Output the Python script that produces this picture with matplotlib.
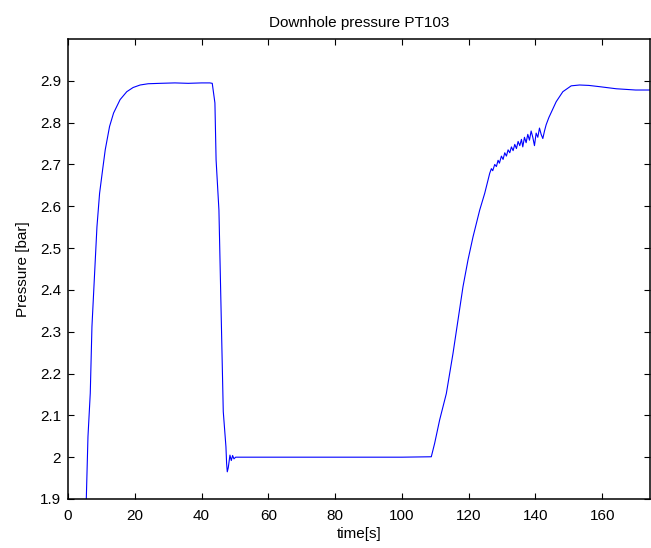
import matplotlib
matplotlib.use("Agg")
import matplotlib.pyplot as plt

plt.rcParams['font.family'] = ['Liberation Sans', 'DejaVu Sans']

# time [s] and downhole pressure [bar]
t = [5.0, 5.47, 5.98, 6.67, 7.17, 7.97, 8.67, 9.46, 10.36, 11.15, 12.45, 13.65,
     15.6, 17.6, 19.5, 21.6, 24.0, 27.6, 32.0, 36.0, 40.0, 42.5, 43.2,
     44.0, 44.35, 45.2, 46.5, 47.3, 47.5, 47.7, 48.0, 48.5, 48.9, 49.3, 49.7,
     50.2, 60.0, 80.0, 100.0, 108.8,
     109.8, 111.3, 113.3, 115.3, 116.8, 118.3, 119.8, 121.3, 123.3, 124.8,
     126.3, 126.8, 127.2, 127.8, 128.3, 128.8, 129.2, 129.8, 130.3, 130.8,
     131.3, 131.8, 132.3, 132.8, 133.3, 133.8, 134.3, 134.8, 135.3, 135.8,
     136.2, 136.7, 137.2, 137.7, 138.2, 138.7, 139.2, 139.7, 140.2, 140.7,
     141.2, 141.7, 142.2, 142.7, 143.2, 144.0,
     146.2, 148.2, 150.7, 153.2, 156.0, 159.2, 164.2, 170.0, 175.0]
p = [1.85, 1.897, 2.049, 2.153, 2.312, 2.44, 2.551, 2.631, 2.687, 2.735, 2.791, 2.823,
     2.855, 2.874, 2.884, 2.890, 2.893, 2.894, 2.895, 2.894, 2.895, 2.895, 2.894,
     2.847, 2.711, 2.591, 2.109, 2.025, 1.985, 1.965, 1.975, 2.005, 1.992, 2.004, 1.996,
     2.0, 2.0, 2.0, 2.0, 2.001,
     2.033, 2.089, 2.152, 2.248, 2.328, 2.408, 2.472, 2.527, 2.591, 2.631,
     2.679, 2.69, 2.685, 2.70, 2.695, 2.71, 2.703, 2.72, 2.712, 2.728,
     2.72, 2.735, 2.728, 2.742, 2.733, 2.748, 2.738, 2.755, 2.745, 2.76,
     2.742, 2.765, 2.752, 2.772, 2.758, 2.78, 2.765, 2.745, 2.775, 2.765,
     2.787, 2.772, 2.762, 2.78, 2.795, 2.812,
     2.850, 2.874, 2.888, 2.890, 2.889, 2.886, 2.881, 2.878, 2.878]

xticks = [0, 20, 40, 60, 80, 100, 120, 140, 160]
yticks = [1.9, 2.0, 2.1, 2.2, 2.3, 2.4, 2.5, 2.6, 2.7, 2.8, 2.9]
ylabels = ['1.9', '2', '2.1', '2.2', '2.3', '2.4', '2.5', '2.6', '2.7', '2.8', '2.9']

fig = plt.figure(figsize=(6.51, 5.48), dpi=100)
ax = fig.add_axes([68 / 651, 49 / 548, 582 / 651, 460 / 548])
ax.plot(t, p, color='#0000ff', linewidth=0.8)

ax.set_xlim(0, 174.3)
ax.set_ylim(1.9, 3.0)
ax.set_xticks(xticks)
ax.set_yticks(yticks)
ax.set_yticklabels(ylabels)
ax.tick_params(direction='in', top=True, right=True, length=4, width=0.8,
               labelsize=11)
ax.tick_params(axis='x', pad=7)
ax.tick_params(axis='y', pad=5)
for s in ax.spines.values():
    s.set_linewidth(1.1)

ax.set_title('Downhole pressure PT103', fontsize=11, pad=9)
ax.set_xlabel('time[s]', fontsize=11, labelpad=3)
ax.set_ylabel('Pressure [bar]', fontsize=11, labelpad=7)

fig.savefig('out.png', dpi=100)
